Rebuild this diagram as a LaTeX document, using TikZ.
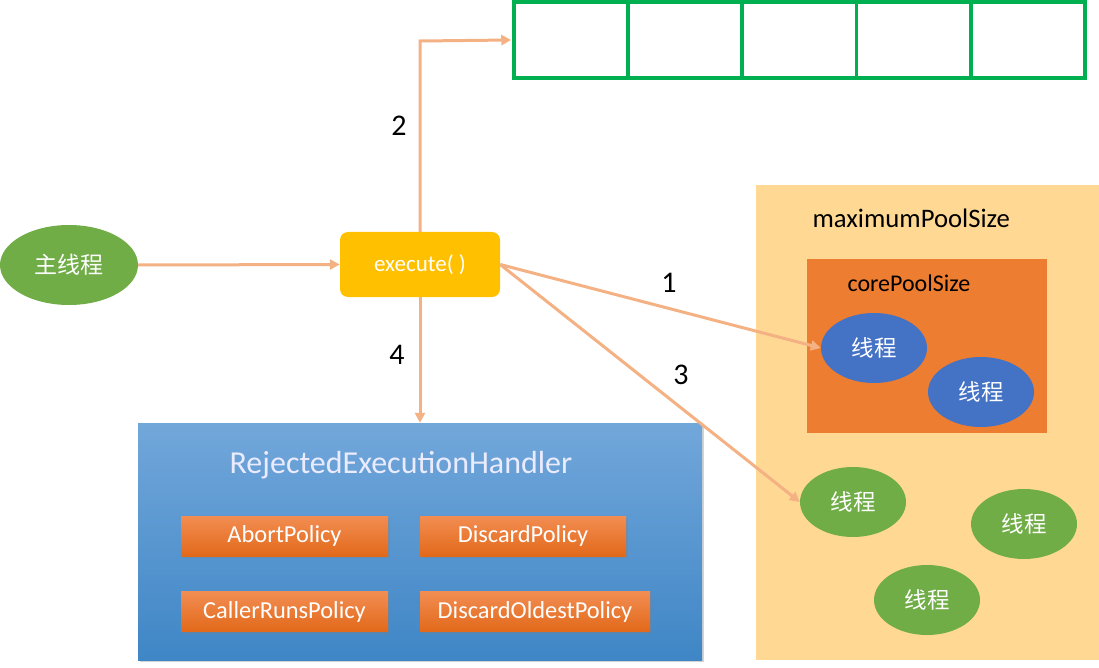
\documentclass[tikz,border=0pt]{standalone}
\usepackage{fontspec}
\setmainfont{Carlito}
\newfontfamily\cjk{Noto Sans CJK SC}
\usetikzlibrary{arrows.meta,shadows,calc,shapes.geometric}
\definecolor{qgreen}{HTML}{00B050}
\definecolor{arrowc}{HTML}{F4B183}
\definecolor{poolbg}{HTML}{FFD994}
\definecolor{corebg}{HTML}{ED7D31}
\definecolor{tblue}{HTML}{4472C4}
\definecolor{tgreen}{HTML}{70AD47}
\definecolor{execc}{HTML}{FFC000}
\definecolor{htop}{HTML}{72A7DA}
\definecolor{hbot}{HTML}{3F86C6}
\definecolor{ptop}{HTML}{F28D52}
\definecolor{pbot}{HTML}{E2691A}
\tikzset{
  cell/.style={draw=qgreen, line width=3.5pt, minimum width=114pt, minimum height=76pt, inner sep=0pt},
  conn/.style={draw=arrowc, line width=3pt, -{Triangle[length=10pt,width=10pt]}},
  thread/.style={ellipse, minimum width=106pt, minimum height=70pt, inner sep=0pt, text=white, font=\cjk\fontsize{22.5}{26}\selectfont},
  num/.style={font=\fontsize{30}{34}\selectfont, text=black},
  policy/.style={rectangle, minimum height=40pt, inner sep=0pt, top color=ptop, bottom color=pbot, text=white, font=\fontsize{24.4}{28}\selectfont, drop shadow={shadow xshift=2pt, shadow yshift=-2pt, opacity=0.35}},
}
\begin{document}
\begin{tikzpicture}[x=1pt,y=-1pt]
\useasboundingbox (0,0) rectangle (1099,668);
% queue
\foreach \i in {0,...,4} {
  \node[cell] (q\i) at ({571+114.2*\i},40) {};
}
% pool
\node[rectangle, fill=poolbg, minimum width=343pt, minimum height=475pt, inner sep=0pt] (pool) at (927.5,422.5) {};
\node[anchor=base west, font=\fontsize{26.7}{30}\selectfont] (maxl) at (809,228) {maximumPoolSize};
\node[rectangle, fill=corebg, minimum width=240pt, minimum height=174pt, inner sep=0pt] (core) at (927,346) {};
\node[anchor=base west, font=\fontsize{24}{28}\selectfont] (corel) at (844,291) {corePoolSize};
\node[thread, fill=tblue] (c1) at (874,348) {线程};
\node[thread, fill=tblue] (c2) at (981,392) {线程};
\node[thread, fill=tgreen] (g1) at (853,502) {线程};
\node[thread, fill=tgreen] (g2) at (1024,524) {线程};
\node[thread, fill=tgreen] (g3) at (927,600) {线程};
% main
\node[ellipse, fill=tgreen, minimum width=138pt, minimum height=80pt, inner sep=0pt, text=white, font=\cjk\fontsize{23}{26}\selectfont] (main) at (69,265) {主线程};
\node[rectangle, rounded corners=8pt, fill=execc, minimum width=160pt, minimum height=65pt, inner sep=0pt, text=white, font=\fontsize{23}{26}\selectfont] (exec) at (420,264.5) {execute( )};
% handler
\node[rectangle, minimum width=564pt, minimum height=237pt, inner sep=0pt, top color=htop, bottom color=hbot, drop shadow={shadow xshift=2pt, shadow yshift=-2pt, opacity=0.35}] (handler) at (420,541.5) {};
\node[text=white!92!blue, font=\fontsize{32}{36}\selectfont] (htitle) at (401,465) {RejectedExecutionHandler};
\node[policy, minimum width=207pt] (abort) at (284.5,536) {AbortPolicy};
\node[policy, minimum width=206pt] (discard) at (523,536) {DiscardPolicy};
\node[policy, minimum width=207pt] (caller) at (284.5,611.5) {CallerRunsPolicy};
\node[policy, minimum width=230pt] (oldest) at (535,611.5) {DiscardOldestPolicy};
% connectors
\coordinate (corner) at (420,41);
\draw[conn] (main.east) -- (exec.west);
\draw[conn] (exec.north) -- (corner) -- ([xshift=-1pt]q0.west);
\draw[conn] (exec.south) -- (handler.north);
\draw[conn] (exec.east) -- (c1.west);
\draw[conn] (exec.east) -- (g1.west);
% numbers
\node[num] (n2) at (399,126) {2};
\node[num] (n4) at (397,355) {4};
\node[num] (n1) at (669,283) {1};
\node[num] (n3) at (681,375) {3};
\end{tikzpicture}
\end{document}
